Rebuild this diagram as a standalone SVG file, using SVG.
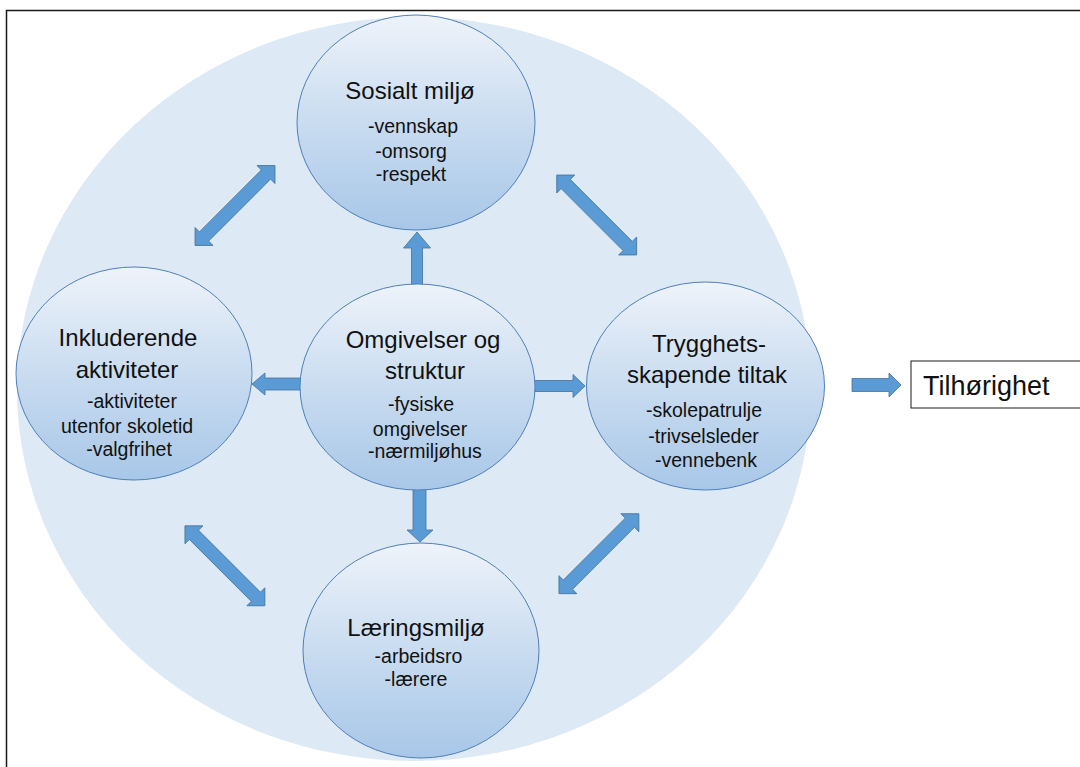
<svg xmlns="http://www.w3.org/2000/svg" width="1080" height="767" viewBox="0 0 1080 767">
  <defs>
    <linearGradient id="nodeGrad" x1="0" y1="0" x2="0" y2="1">
      <stop offset="0" stop-color="#EEF3FA"/>
      <stop offset="0.5" stop-color="#C9DCF0"/>
      <stop offset="1" stop-color="#A8C7E8"/>
    </linearGradient>
    <path id="dbl" d="M -56.5 0 L -43.8 -12.7 L -43.8 -6.5 L 43.8 -6.5 L 43.8 -12.7 L 56.5 0 L 43.8 12.7 L 43.8 6.5 L -43.8 6.5 L -43.8 12.7 Z"/>
  </defs>
  <style>
    .node { fill: url(#nodeGrad); stroke: #4F7FB8; stroke-width: 1; }
    .arrow { fill: #5B9BD5; stroke: #41719C; stroke-width: 0.8; }
    .t { font-family: "Liberation Sans", Arial, sans-serif; fill: #111; text-anchor: middle; }
    .title { font-size: 24px; }
    .item { font-size: 19.5px; }
  </style>
  <rect x="0" y="0" width="1080" height="767" fill="#FFFFFF"/>
  <rect x="6.5" y="10.5" width="1100" height="800" fill="none" stroke="#1A1A1A" stroke-width="1.5"/>
  <ellipse id="background" cx="414" cy="389" rx="397" ry="372" fill="#DDE9F4"/>

  <g id="connectors">
    <path class="arrow" d="M 417 232 L 430.5 248 L 422.5 248 L 422.5 292 L 411.5 292 L 411.5 248 L 403.5 248 Z"/>
    <path class="arrow" d="M 420 542 L 433 530 L 426 530 L 426 482 L 413 482 L 413 530 L 407 530 Z"/>
    <path class="arrow" d="M 252 384 L 265 373 L 265 378 L 305 378 L 305 390 L 265 390 L 265 395 Z"/>
    <path class="arrow" d="M 585 386 L 573 374.5 L 573 380.5 L 530 380.5 L 530 391.5 L 573 391.5 L 573 397.5 Z"/>
    <path class="arrow" d="M 901 385 L 889 373 L 889 378.5 L 852 378.5 L 852 391.5 L 889 391.5 L 889 397 Z"/>
    <use href="#dbl" class="arrow" transform="translate(235 205.5) rotate(-45)"/>
    <use href="#dbl" class="arrow" transform="translate(596.7 215) rotate(45)"/>
    <use href="#dbl" class="arrow" transform="translate(224.9 565.8) rotate(45)"/>
    <use href="#dbl" class="arrow" transform="translate(598.9 553.7) rotate(-45)"/>
  </g>

  <g id="sosialt">
    <ellipse class="node" cx="416" cy="122.5" rx="119" ry="107.5"/>
    <text class="t title" x="410" y="99">Sosialt miljø</text>
    <text class="t item" x="413" y="133">-vennskap</text>
    <text class="t item" x="411" y="158">-omsorg</text>
    <text class="t item" x="411" y="181">-respekt</text>
  </g>

  <g id="inkluderende">
    <ellipse class="node" cx="134" cy="373.5" rx="118" ry="106.5"/>
    <text class="t title" x="128" y="346">Inkluderende</text>
    <text class="t title" x="127" y="378">aktiviteter</text>
    <text class="t item" x="132" y="408">-aktiviteter</text>
    <text class="t item" x="127" y="433">utenfor skoletid</text>
    <text class="t item" x="129" y="456">-valgfrihet</text>
  </g>

  <g id="omgivelser">
    <ellipse class="node" cx="417.5" cy="387" rx="117.5" ry="103"/>
    <text class="t title" x="423" y="348">Omgivelser og</text>
    <text class="t title" x="425" y="379">struktur</text>
    <text class="t item" x="421" y="411">-fysiske</text>
    <text class="t item" x="420" y="436">omgivelser</text>
    <text class="t item" x="425" y="458">-nærmiljøhus</text>
  </g>

  <g id="trygghets">
    <ellipse class="node" cx="705.5" cy="386" rx="119" ry="104"/>
    <text class="t title" x="709" y="352">Trygghets-</text>
    <text class="t title" x="707" y="383">skapende tiltak</text>
    <text class="t item" x="704" y="417">-skolepatrulje</text>
    <text class="t item" x="703.5" y="443">-trivselsleder</text>
    <text class="t item" x="706" y="467">-vennebenk</text>
  </g>

  <g id="laeringsmiljo">
    <ellipse class="node" cx="421" cy="650.5" rx="118" ry="107.5"/>
    <text class="t title" x="416" y="636">Læringsmiljø</text>
    <text class="t item" x="418.5" y="663">-arbeidsro</text>
    <text class="t item" x="416" y="686">-lærere</text>
  </g>

  <g id="tilhorighet">
    <rect x="911" y="361" width="200" height="47" fill="#FFFFFF" stroke="#1A1A1A" stroke-width="1"/>
    <text class="t" x="923" y="395" style="text-anchor:start;font-size:27px">Tilhørighet</text>
  </g>
</svg>
